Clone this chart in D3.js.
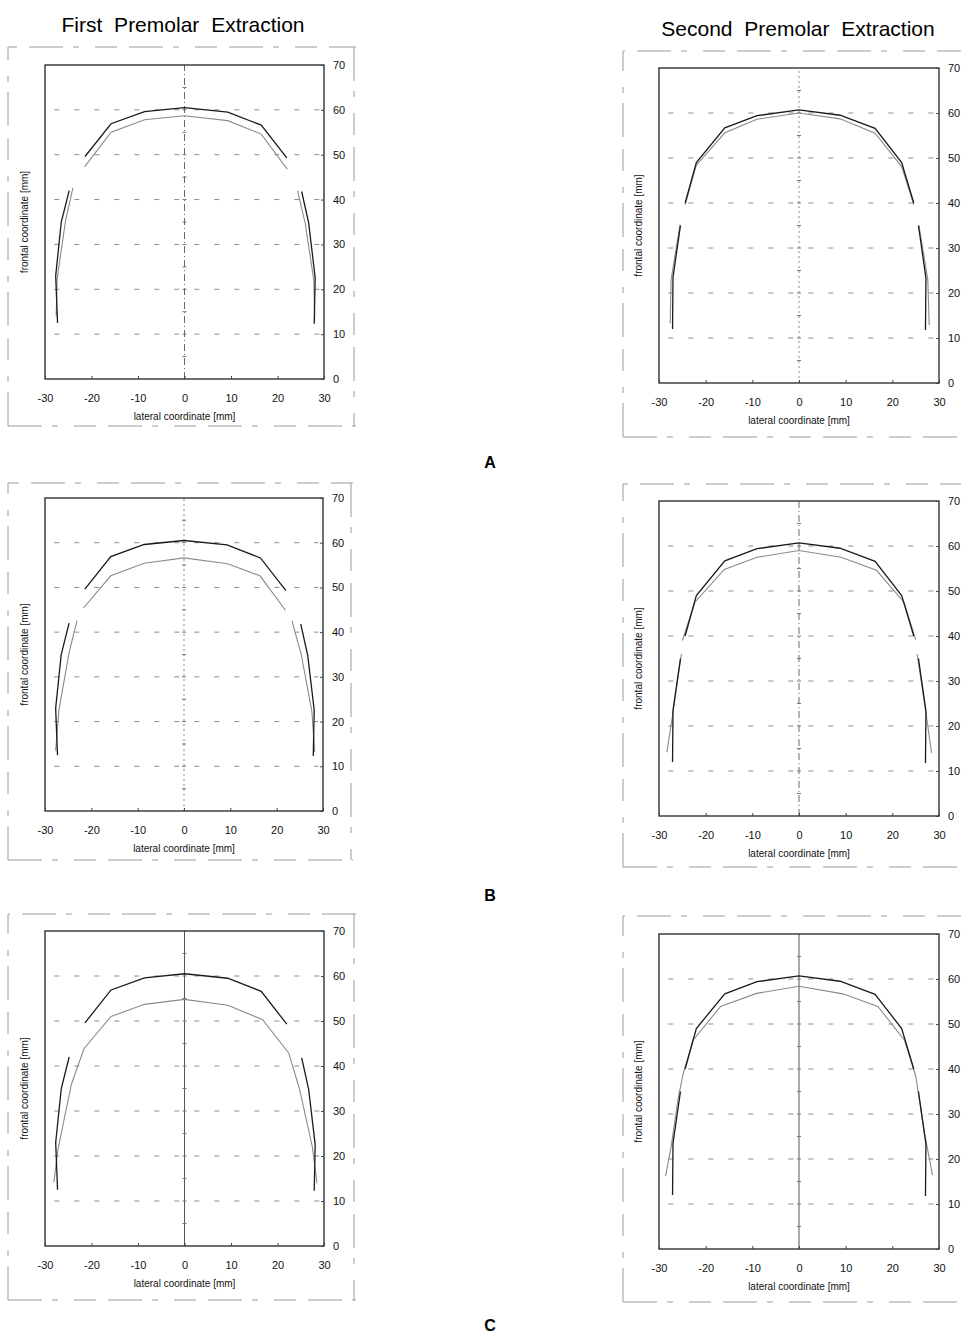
<!DOCTYPE html>
<html>
<head>
<meta charset="utf-8">
<script src="https://cdn.jsdelivr.net/npm/d3@7"></script>
<style>
  body { margin: 0; background: #fff; }
  svg { display: block; font-family: "Liberation Sans", Arial, sans-serif; }
</style>
</head>
<body>
<div id="chart"></div>
<script>
// tick values
var xTicks = [-30, -20, -10, 0, 10, 20, 30];
var yTicks = [0, 10, 20, 30, 40, 50, 60, 70];
var gridLevels = [10, 20, 30, 40, 50, 60];

// reference arch (black), first premolar panels: anterior, left posterior, right posterior
var refFirst = [
    [[-21.4, 49.6], [-15.8, 56.9], [-8.6, 59.6], [0, 60.5], [9.3, 59.5], [16.5, 56.6], [22.0, 49.3]],
    [[-24.8, 42.0], [-26.5, 35.0], [-27.7, 23.0], [-27.3, 12.5]],
    [[25.2, 41.8], [26.7, 34.8], [28.1, 22.6], [27.9, 12.3]]
];
// reference arch (black), second premolar panels
var refSecond = [
    [[-24.4, 40.0], [-22.0, 49.0], [-15.9, 56.7], [-9.0, 59.4], [0, 60.7], [8.8, 59.5], [16.3, 56.6], [22.0, 49.0], [24.6, 40.0]],
    [[-25.4, 35.0], [-27.0, 23.5], [-27.1, 12.0]],
    [[25.6, 35.0], [27.2, 23.3], [27.1, 11.8]]
];

// treated arches (grey)
var archA1 = [
    [[-21.5, 47.3], [-15.8, 55.0], [-8.6, 57.8], [0, 58.7], [9.3, 57.6], [16.5, 54.6], [22.1, 46.8]],
    [[-24.0, 42.6], [-25.6, 35.2], [-27.4, 22.2], [-27.6, 14.0]],
    [[24.3, 42.0], [26.0, 34.5], [27.8, 22.0], [28.0, 13.5]]
];
var archA2 = [
    [[-24.4, 39.6], [-22.0, 48.4], [-15.9, 55.6], [-9.0, 58.6], [0, 60.0], [8.8, 58.7], [16.3, 55.5], [22.0, 48.1], [24.6, 39.6]],
    [[-25.5, 35.2], [-27.4, 23.0], [-27.6, 13.3]],
    [[25.7, 35.0], [27.6, 23.0], [27.9, 12.9]]
];
var archB1 = [
    [[-21.7, 45.4], [-15.8, 52.6], [-8.6, 55.4], [0, 56.6], [9.4, 55.3], [16.4, 52.6], [21.9, 44.9]],
    [[-23.1, 42.6], [-24.8, 35.4], [-27.0, 22.5], [-27.7, 13.5]],
    [[23.3, 42.5], [25.3, 35.0], [27.6, 22.3], [28.2, 13.2]]
];
var archB2 = [
    [[-25.0, 39.0], [-22.3, 47.5], [-16.0, 54.8], [-9.0, 57.5], [0, 59.0], [9.0, 57.5], [16.6, 54.6], [22.5, 47.5], [25.0, 39.2]],
    [[-25.2, 36.0], [-27.0, 23.0], [-28.3, 14.2]],
    [[25.3, 36.0], [27.2, 23.0], [28.4, 14.0]]
];
var archC1 = [
    [[-28.1, 14.2], [-27.2, 21.6], [-24.3, 36.0], [-21.6, 43.9], [-15.8, 51.0], [-8.6, 53.7], [0, 54.8],
     [9.3, 53.5], [16.8, 50.3], [22.4, 42.9], [24.7, 35.0], [27.5, 22.0], [28.5, 13.9]]
];
var archC2 = [
    [[-28.6, 16.2], [-27.4, 22.7], [-25.9, 33.5], [-24.8, 39.0], [-22.7, 46.4], [-16.8, 53.9], [-9.1, 56.8], [0, 58.4],
     [9.4, 56.7], [16.9, 53.9], [22.6, 46.4], [25.0, 38.5], [26.9, 25.7], [28.6, 16.4]]
];

var width = 961, height = 1334;

var svg = d3.select("#chart").append("svg")
    .attr("width", width)
    .attr("height", height);

// column titles
svg.append("text")
    .attr("x", 183).attr("y", 32)
    .attr("text-anchor", "middle")
    .style("font-size", "21px")
    .style("word-spacing", "6px")
    .text("First Premolar Extraction");
svg.append("text")
    .attr("x", 798).attr("y", 36)
    .attr("text-anchor", "middle")
    .style("font-size", "21px")
    .style("word-spacing", "6px")
    .text("Second Premolar Extraction");

// row letters
[["A", 468], ["B", 901], ["C", 1331]].forEach(function (d) {
    svg.append("text")
        .attr("x", 490).attr("y", d[1])
        .attr("text-anchor", "middle")
        .style("font-size", "16px")
        .style("font-weight", "bold")
        .text(d[0]);
});

var panels = [
    { left: 45, right: 324, top: 65, bottom: 379, ref: refFirst, arch: archA1, box: [8, 47, 356, 426], axisLine: "dash" },
    { left: 659, right: 939, top: 68, bottom: 383, ref: refSecond, arch: archA2, box: [623, 51, 975, 437], axisLine: "dot" },
    { left: 45, right: 323, top: 498, bottom: 811, ref: refFirst, arch: archB1, box: [8, 483, 353, 860], axisLine: "dot" },
    { left: 659, right: 939, top: 501, bottom: 816, ref: refSecond, arch: archB2, box: [623, 484, 975, 867], axisLine: "dash" },
    { left: 45, right: 324, top: 931, bottom: 1246, ref: refFirst, arch: archC1, box: [8, 914, 356, 1300], axisLine: "solid" },
    { left: 659, right: 939, top: 934, bottom: 1249, ref: refSecond, arch: archC2, box: [623, 916, 975, 1302], axisLine: "solid" }
];

panels.forEach(function (p) { drawPanel(p); });

function drawPanel(p) {
    var x = d3.scaleLinear().domain([-30, 30]).range([p.left, p.right]);
    var y = d3.scaleLinear().domain([0, 70]).range([p.bottom, p.top]);
    var g = svg.append("g");

    // faint scanned outer frame
    var b = p.box;
    g.append("path")
        .attr("d", "M" + b[0] + "," + b[3] + "V" + b[1] + "H" + b[2] + "M" + b[0] + "," + b[3] + "H" + b[2] + "M" + (b[2] - 2) + "," + b[1] + "V" + b[3])
        .attr("fill", "none")
        .attr("stroke", "#9a9a9a")
        .attr("stroke-width", 1)
        .attr("stroke-dasharray", "34,10,6,16,22,12");

    // grid dashes
    g.selectAll(".grid")
        .data(gridLevels)
        .enter().append("line")
        .attr("x1", x(-28)).attr("x2", x(29))
        .attr("y1", d => y(d)).attr("y2", d => y(d))
        .attr("stroke", "#8c8c8c")
        .attr("stroke-width", 1)
        .attr("stroke-dasharray", "5,15");

    // centre line
    var cl = g.append("line")
        .attr("x1", x(0)).attr("x2", x(0))
        .attr("y1", y(0)).attr("y2", y(70))
        .attr("stroke-width", 1);
    if (p.axisLine == "solid") cl.attr("stroke", "#555");
    else if (p.axisLine == "dash") cl.attr("stroke", "#666").attr("stroke-dasharray", "7,3,1,3");
    else cl.attr("stroke", "#888").attr("stroke-dasharray", "2,3");

    // little marks on centre line
    g.selectAll(".cmark")
        .data(d3.range(5, 70, 5))
        .enter().append("line")
        .attr("x1", x(0) - 2).attr("x2", x(0) + 2)
        .attr("y1", d => y(d)).attr("y2", d => y(d))
        .attr("stroke", "#777");

    // plot frame
    g.append("rect")
        .attr("x", x(-30)).attr("y", y(70))
        .attr("width", x(30) - x(-30))
        .attr("height", y(0) - y(70))
        .attr("fill", "none")
        .attr("stroke", "#222")
        .attr("stroke-width", 1.3);

    // axes (plain hyphen minus, as in the scan)
    var fmt = d => String(d);
    var xAxis = g.append("g")
        .attr("transform", "translate(0," + y(0) + ")")
        .call(d3.axisBottom(x).tickValues(xTicks).tickFormat(fmt).tickSizeInner(-3).tickSizeOuter(0).tickPadding(15));
    var yAxis = g.append("g")
        .attr("transform", "translate(" + x(30) + ",0)")
        .call(d3.axisRight(y).tickValues(yTicks).tickFormat(fmt).tickSizeInner(-3).tickSizeOuter(0).tickPadding(9));
    [xAxis, yAxis].forEach(function (a) {
        a.select(".domain").remove();
        a.selectAll("line").attr("stroke", "#444");
        a.selectAll("text")
            .attr("fill", "#111")
            .style("font-size", "11px")
            .style("font-family", "'Liberation Sans', Arial, sans-serif");
    });

    // axis titles
    g.append("text")
        .attr("x", (x(-30) + x(30)) / 2)
        .attr("y", y(0) + 41)
        .attr("text-anchor", "middle")
        .style("font-size", "10px")
        .attr("fill", "#111")
        .text("lateral coordinate [mm]");
    g.append("text")
        .attr("transform", "translate(" + (x(-30) - 17) + "," + ((y(0) + y(70)) / 2) + ") rotate(-90)")
        .attr("text-anchor", "middle")
        .style("font-size", "10px")
        .attr("fill", "#111")
        .text("frontal coordinate [mm]");

    var line = d3.line().x(d => x(d[0])).y(d => y(d[1]));

    // treated arch (grey)
    g.selectAll(".arch")
        .data(p.arch)
        .enter().append("path")
        .attr("d", line)
        .attr("fill", "none")
        .attr("stroke", "#8a8a8a")
        .attr("stroke-width", 1.1);

    // reference arch (black)
    g.selectAll(".ref")
        .data(p.ref)
        .enter().append("path")
        .attr("d", line)
        .attr("fill", "none")
        .attr("stroke", "#1a1a1a")
        .attr("stroke-width", 1.3);
}
</script>
</body>
</html>
